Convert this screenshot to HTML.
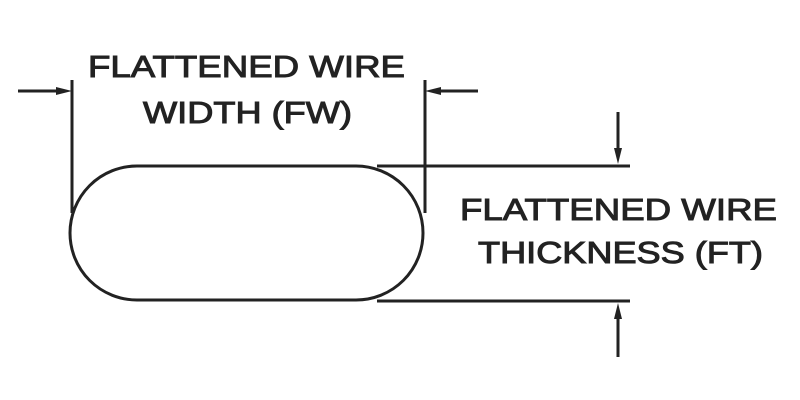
<!DOCTYPE html>
<html><head><style>html,body{margin:0;padding:0;background:#fff;}svg{display:block}</style></head>
<body>
<svg width="800" height="400" viewBox="0 0 800 400" xmlns="http://www.w3.org/2000/svg">
<g stroke="#222" stroke-width="3" fill="none">
<path d="M137 166 H356 A67 67 0 0 1 356 300 H137 A67 67 0 0 1 137 166 Z"/>
<line x1="72" y1="80" x2="72" y2="213"/>
<line x1="425" y1="80" x2="425" y2="213"/>
<line x1="18" y1="91" x2="60" y2="91"/>
<line x1="437" y1="91" x2="478" y2="91"/>
<line x1="377" y1="166" x2="630" y2="166"/>
<line x1="377" y1="301" x2="630" y2="301"/>
<line x1="618" y1="112" x2="618" y2="152"/>
<line x1="618" y1="315" x2="618" y2="357"/>
</g>
<g fill="#222">
<polygon points="72,91 56,87 56,95"/>
<polygon points="425,91 441,87 441,95"/>
<polygon points="618,164 614,148 622,148"/>
<polygon points="618,303 614,319 622,319"/>
</g>
<g font-family="Liberation Sans, Arial, sans-serif" font-size="31" fill="#222" stroke="#222" stroke-width="1">
<text x="88" y="77" textLength="317" lengthAdjust="spacingAndGlyphs">FLATTENED WIRE</text>
<text x="143" y="123" textLength="209" lengthAdjust="spacingAndGlyphs">WIDTH (FW)</text>
<text x="460" y="220" textLength="317" lengthAdjust="spacingAndGlyphs">FLATTENED WIRE</text>
<text x="478" y="263" textLength="285" lengthAdjust="spacingAndGlyphs">THICKNESS (FT)</text>
</g>
</svg>
</body></html>
